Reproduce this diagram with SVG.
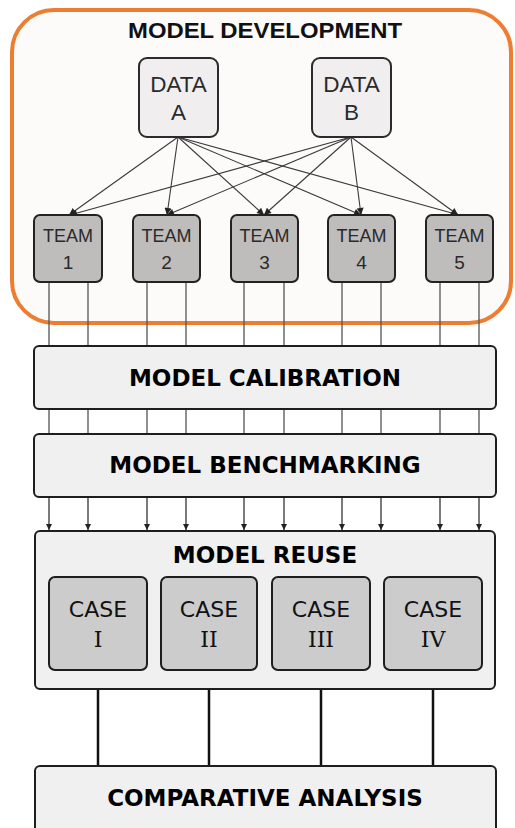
<svg xmlns="http://www.w3.org/2000/svg" width="515" height="828" viewBox="0 0 515 828">
  <style>
    .data rect { fill: #f0eeee; stroke: #2b2b2b; stroke-width: 2; }
    .team rect { fill: #bfbcbc; stroke: #222; stroke-width: 2; }
    .stage rect { fill: #f0f0f0; stroke: #1e1e1e; stroke-width: 2; }
    .case rect { fill: #cccccc; stroke: #1e1e1e; stroke-width: 2; }
    .sans { font-family: "Liberation Sans", Arial, sans-serif; fill: #2a2a2a; text-anchor: middle; }
    .stage-label { font-family: "DejaVu Sans", Verdana, sans-serif; font-weight: bold; fill: #000; text-anchor: middle; font-size: 23px; }
    .case-label { font-family: "DejaVu Sans", Verdana, sans-serif; fill: #111; text-anchor: middle; font-size: 22px; }
    .roman { font-family: "DejaVu Serif", "Liberation Serif", serif; fill: #111; text-anchor: middle; font-size: 22px; }
    .fan { stroke: #3a3a3a; stroke-width: 1.1; fill: none; marker-end: url(#head); }
    .feed { stroke: #555; stroke-width: 1.3; fill: none; }
    .drop { stroke: #333; stroke-width: 1.3; fill: none; marker-end: url(#head2); }
    .bus { stroke: #111; stroke-width: 2.5; fill: none; }
  </style>
  <defs>
    <marker id="head" viewBox="0 0 10 10" refX="10" refY="5" markerWidth="9" markerHeight="7" markerUnits="userSpaceOnUse" orient="auto">
      <path d="M0,0 L10,5 L0,10 z" fill="#222"/>
    </marker>
    <marker id="head2" viewBox="0 0 10 10" refX="10" refY="5" markerWidth="7" markerHeight="6" markerUnits="userSpaceOnUse" orient="auto">
      <path d="M0,0 L10,5 L0,10 z" fill="#222"/>
    </marker>
  </defs>

  <rect width="515" height="828" fill="#ffffff"/>

  <!-- model development frame -->
  <g id="model-development">
    <rect x="12" y="10" width="499" height="313" rx="42" fill="#fdfbfa" stroke="#ed7d31" stroke-width="4"/>
    <text x="265" y="38" font-family="Liberation Sans, Arial, sans-serif" font-weight="bold" font-size="22" fill="#111" text-anchor="middle" textLength="274" lengthAdjust="spacingAndGlyphs">MODEL DEVELOPMENT</text>
  </g>

  <!-- connectors -->
  <g id="connectors">
    <!-- data sources fan out to every team -->
    <path class="fan" d="M178,137 L69,215"/>
    <path class="fan" d="M178,137 L167,215"/>
    <path class="fan" d="M178,137 L264,215"/>
    <path class="fan" d="M178,137 L361,215"/>
    <path class="fan" d="M178,137 L459,215"/>
    <path class="fan" d="M351,137 L70,215"/>
    <path class="fan" d="M351,137 L167,215"/>
    <path class="fan" d="M351,137 L264,215"/>
    <path class="fan" d="M351,137 L361,215"/>
    <path class="fan" d="M351,137 L458,215"/>

    <!-- team outputs into calibration and benchmarking -->
    <path class="feed" d="M49,282 V346 M88,282 V346 M147,282 V346 M186,282 V346 M244,282 V346 M284,282 V346 M342,282 V346 M381,282 V346 M440,282 V346 M479,282 V346"/>
    <path class="feed" d="M49,409 V434 M88,409 V434 M147,409 V434 M186,409 V434 M244,409 V434 M284,409 V434 M342,409 V434 M381,409 V434 M440,409 V434 M479,409 V434"/>

    <!-- benchmarking into reuse -->
    <path class="drop" d="M49,497 V530"/>
    <path class="drop" d="M88,497 V530"/>
    <path class="drop" d="M147,497 V530"/>
    <path class="drop" d="M186,497 V530"/>
    <path class="drop" d="M244,497 V530"/>
    <path class="drop" d="M284,497 V530"/>
    <path class="drop" d="M342,497 V530"/>
    <path class="drop" d="M381,497 V530"/>
    <path class="drop" d="M440,497 V530"/>
    <path class="drop" d="M479,497 V530"/>

    <!-- cases into comparative analysis -->
    <path class="bus" d="M98,689 V766 M209,689 V766 M321,689 V766 M433,689 V766"/>
  </g>

  <g id="data-a" class="data">
    <rect x="139" y="58" width="79" height="79" rx="8"/>
    <text class="sans" x="178.5" y="92" font-size="22.5">DATA</text>
    <text class="sans" x="178.5" y="120" font-size="22.5">A</text>
  </g>
  <g id="data-b" class="data">
    <rect x="312" y="58" width="79" height="79" rx="8"/>
    <text class="sans" x="351.5" y="92" font-size="22.5">DATA</text>
    <text class="sans" x="351.5" y="120" font-size="22.5">B</text>
  </g>

  <g id="team-1" class="team">
    <rect x="34" y="215" width="68" height="67" rx="6"/>
    <text class="sans" x="68" y="242" font-size="18">TEAM</text>
    <text class="sans" x="68" y="269" font-size="19">1</text>
  </g>
  <g id="team-2" class="team">
    <rect x="133" y="215" width="67" height="67" rx="6"/>
    <text class="sans" x="166.5" y="242" font-size="18">TEAM</text>
    <text class="sans" x="166.5" y="269" font-size="19">2</text>
  </g>
  <g id="team-3" class="team">
    <rect x="231" y="215" width="67" height="67" rx="6"/>
    <text class="sans" x="264.5" y="242" font-size="18">TEAM</text>
    <text class="sans" x="264.5" y="269" font-size="19">3</text>
  </g>
  <g id="team-4" class="team">
    <rect x="328" y="215" width="67" height="67" rx="6"/>
    <text class="sans" x="361.5" y="242" font-size="18">TEAM</text>
    <text class="sans" x="361.5" y="269" font-size="19">4</text>
  </g>
  <g id="team-5" class="team">
    <rect x="426" y="215" width="67" height="67" rx="6"/>
    <text class="sans" x="459.5" y="242" font-size="18">TEAM</text>
    <text class="sans" x="459.5" y="269" font-size="19">5</text>
  </g>

  <g id="model-calibration" class="stage">
    <rect x="34" y="346" width="462" height="63" rx="5"/>
    <text class="stage-label" x="265" y="386">MODEL CALIBRATION</text>
  </g>

  <g id="model-benchmarking" class="stage">
    <rect x="34" y="434" width="462" height="63" rx="5"/>
    <text class="stage-label" x="265" y="473">MODEL BENCHMARKING</text>
  </g>

  <g id="model-reuse" class="stage">
    <rect x="35" y="531" width="460" height="158" rx="5"/>
    <text class="stage-label" x="265" y="563">MODEL REUSE</text>
  </g>

  <g id="case-1" class="case">
    <rect x="49" y="577" width="98" height="93" rx="6"/>
    <text class="case-label" x="98" y="617">CASE</text>
    <text class="roman" x="98" y="647">I</text>
  </g>
  <g id="case-2" class="case">
    <rect x="161" y="577" width="96" height="93" rx="6"/>
    <text class="case-label" x="209" y="617">CASE</text>
    <text class="roman" x="209" y="647">II</text>
  </g>
  <g id="case-3" class="case">
    <rect x="272" y="577" width="98" height="93" rx="6"/>
    <text class="case-label" x="321" y="617">CASE</text>
    <text class="roman" x="321" y="647">III</text>
  </g>
  <g id="case-4" class="case">
    <rect x="384" y="577" width="98" height="93" rx="6"/>
    <text class="case-label" x="433" y="617">CASE</text>
    <text class="roman" x="433" y="647">IV</text>
  </g>

  <g id="comparative-analysis" class="stage">
    <rect x="35" y="766" width="461" height="70" rx="5"/>
    <text class="stage-label" x="265" y="806">COMPARATIVE ANALYSIS</text>
  </g>
</svg>
